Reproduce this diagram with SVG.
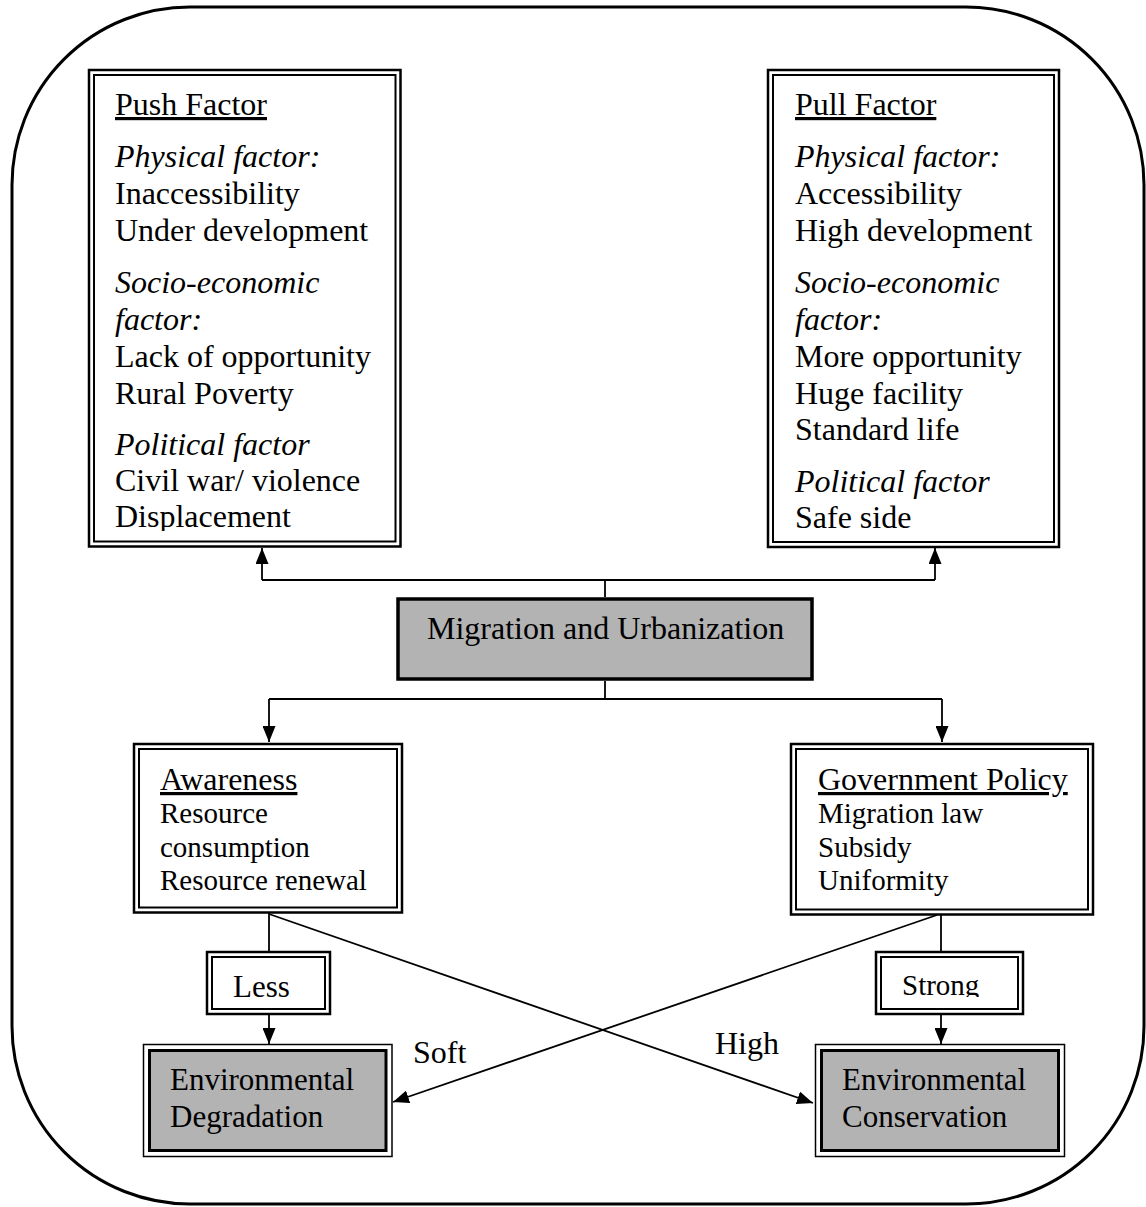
<svg xmlns="http://www.w3.org/2000/svg" width="1146" height="1207" viewBox="0 0 1146 1207">
<style>
text{font-family:"Liberation Serif","Times New Roman",serif;fill:#000}
.t32{font-size:32px}
.t29{font-size:29px}
.it{font-style:italic}
.ul{text-decoration:underline}
.dbo{fill:#fff;stroke:#000;stroke-width:2.5}
.dbi{fill:none;stroke:#000;stroke-width:2}
.gro{fill:#fff;stroke:#000;stroke-width:1.5}
.gri{fill:#b3b3b3;stroke:#000;stroke-width:3}
.ln{fill:none;stroke:#000;stroke-width:1.8}
.arr{marker-end:url(#ah)}
</style>
<defs>
<marker id="ah" markerUnits="userSpaceOnUse" markerWidth="16" markerHeight="13" viewBox="0 0 16 13" refX="16" refY="6.5" orient="auto">
<path d="M0,0 L16,6.5 L0,13 z" fill="#000"/>
</marker>
<clipPath id="cpPush"><rect x="94" y="75" width="302" height="456"/></clipPath>
<clipPath id="cpPull"><rect x="773" y="75" width="281" height="456"/></clipPath>
<clipPath id="cpStrong"><rect x="880" y="956" width="139" height="41"/></clipPath>
</defs>

<rect id="frame" x="12" y="7" width="1132" height="1197" rx="178" ry="178" fill="none" stroke="#000" stroke-width="3"/>

<g id="connectors">
<path class="ln" d="M605,597 V580 M262,580 H935"/>
<path class="ln arr" d="M262,580 V548"/>
<path class="ln arr" d="M935,580 V548"/>
<path class="ln" d="M605,681 V699 M269,699 H942"/>
<path class="ln arr" d="M269,699 V742"/>
<path class="ln arr" d="M942,699 V742"/>
<path class="ln" d="M269,913 V951"/>
<path class="ln arr" d="M269,1015 V1044"/>
<path class="ln" d="M941,915 V951"/>
<path class="ln arr" d="M941,1015 V1044"/>
<path class="ln arr" d="M269,914 L813,1103"/>
<path class="ln arr" d="M937,915 L393,1102"/>
<text class="t32" x="413" y="1063">Soft</text>
<text class="t32" x="715" y="1054">High</text>
</g>

<g id="push">
<rect class="dbo" x="89" y="70" width="311.5" height="476.5"/>
<rect class="dbi" x="94" y="75" width="301.5" height="466.5"/>
<g clip-path="url(#cpPush)">
<text class="t32 ul" x="115" y="115">Push Factor</text>
<text class="t32 it" x="115" y="167">Physical factor:</text>
<text class="t32" x="115" y="204">Inaccessibility</text>
<text class="t32" x="115" y="241">Under development</text>
<text class="t32 it" x="115" y="293">Socio-economic</text>
<text class="t32 it" x="115" y="330">factor:</text>
<text class="t32" x="115" y="367">Lack of opportunity</text>
<text class="t32" x="115" y="404">Rural Poverty</text>
<text class="t32 it" x="115" y="455">Political factor</text>
<text class="t32" x="115" y="491">Civil war/ violence</text>
<text class="t32" x="115" y="527">Displacement</text>
</g>
</g>

<g id="pull">
<rect class="dbo" x="768" y="70" width="291" height="477"/>
<rect class="dbi" x="773" y="75" width="281" height="467"/>
<g clip-path="url(#cpPull)">
<text class="t32 ul" x="795" y="115">Pull Factor</text>
<text class="t32 it" x="795" y="167">Physical factor:</text>
<text class="t32" x="795" y="204">Accessibility</text>
<text class="t32" x="795" y="241">High development</text>
<text class="t32 it" x="795" y="293">Socio-economic</text>
<text class="t32 it" x="795" y="330">factor:</text>
<text class="t32" x="795" y="367">More opportunity</text>
<text class="t32" x="795" y="404">Huge facility</text>
<text class="t32" x="795" y="440">Standard life</text>
<text class="t32 it" x="795" y="492">Political factor</text>
<text class="t32" x="795" y="528">Safe side</text>
</g>
</g>

<g id="migration">
<rect x="398" y="599" width="414" height="80" fill="#b3b3b3" stroke="#000" stroke-width="3.5"/>
<text class="t32" x="427" y="639">Migration and Urbanization</text>
</g>

<g id="awareness">
<rect class="dbo" x="134" y="744" width="268" height="168.5"/>
<rect class="dbi" x="139" y="749" width="258" height="158.5"/>
<text class="t32 ul" x="160" y="790">Awareness</text>
<text class="t29" x="160" y="823">Resource</text>
<text class="t29" x="160" y="857">consumption</text>
<text class="t29" x="160" y="890">Resource renewal</text>
</g>

<g id="government">
<rect class="dbo" x="791" y="744" width="302" height="170.5"/>
<rect class="dbi" x="796" y="749" width="292" height="160.5"/>
<text class="t32 ul" x="818" y="790">Government Policy</text>
<text class="t29" x="818" y="823">Migration law</text>
<text class="t29" x="818" y="857">Subsidy</text>
<text class="t29" x="818" y="890">Uniformity</text>
</g>

<g id="less">
<rect class="dbo" x="207" y="952" width="123" height="62"/>
<rect class="dbi" x="212" y="957" width="113" height="52"/>
<text class="t32" x="233" y="997" style="font-size:31px">Less</text>
</g>

<g id="strong">
<rect class="dbo" x="876" y="952" width="147" height="62"/>
<rect class="dbi" x="881" y="957" width="137" height="52"/>
<text class="t29" x="902" y="995" clip-path="url(#cpStrong)">Strong</text>
</g>

<g id="degradation">
<rect class="gro" x="143.5" y="1044.5" width="248.5" height="112"/>
<rect class="gri" x="149.5" y="1050.5" width="236.5" height="100"/>
<text class="t32" x="170" y="1090" style="font-size:31px">Environmental</text>
<text class="t32" x="170" y="1127" style="font-size:31px">Degradation</text>
</g>

<g id="conservation">
<rect class="gro" x="815.5" y="1044.5" width="249" height="112"/>
<rect class="gri" x="821.5" y="1050.5" width="237" height="100"/>
<text class="t32" x="842" y="1090" style="font-size:31px">Environmental</text>
<text class="t32" x="842" y="1127" style="font-size:31px">Conservation</text>
</g>
</svg>
